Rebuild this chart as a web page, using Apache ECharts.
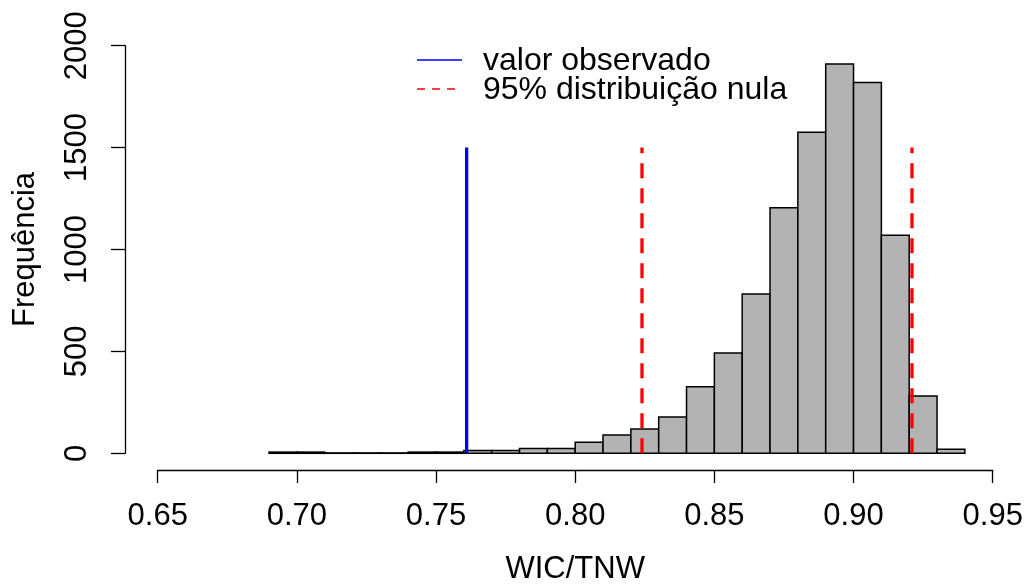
<!DOCTYPE html>
<html>
<head>
<meta charset="utf-8">
<script src="https://cdn.jsdelivr.net/npm/echarts@6/dist/echarts.min.js"></script>
<style>
  html, body { margin: 0; padding: 0; background: #fff; }
  #chart { width: 1026px; height: 584px; }
</style>
</head>
<body>
<div id="chart"></div>
<script>
// histogram bins (left edges) and counts, bin width 0.01
const binStarts = [0.69, 0.70, 0.71, 0.72, 0.73, 0.74, 0.75, 0.76, 0.77, 0.78, 0.79,
  0.80, 0.81, 0.82, 0.83, 0.84, 0.85, 0.86, 0.87, 0.88, 0.89, 0.90, 0.91, 0.92, 0.93];
const binCounts = [6, 6, 2, 2, 2, 6, 6, 14, 14, 23, 23,
  54, 90, 119, 178, 327, 492, 782, 1205, 1575, 1910, 1820, 1070, 281, 20];
const binWidth = 0.01;

const observedValue = 0.761;
const nullQuantiles = [0.824, 0.921];
const refLineTop = 1500;

const legendLabels = ["valor observado", "95% distribuição nula"];

const xTicks = { min: 0.65, max: 0.95, step: 0.05 };
const yTicks = { min: 0, max: 2000, step: 500 };

const FONT = "'Liberation Sans', Arial, sans-serif";
const FS = 31;

const histData = binStarts.map((s, i) => [s, s + binWidth, binCounts[i]]);

const chart = echarts.init(document.getElementById("chart"), null, { renderer: "canvas" });

// legend drawn by hand, R style (no box)
function legendRow(y, color, dash, label) {
  return [
    {
      type: "line",
      shape: { x1: 417, y1: y, x2: 462, y2: y },
      style: { stroke: color, lineWidth: 1.5, lineDash: dash },
    },
    {
      type: "text",
      x: 483,
      y: y + 1.5,
      style: { text: label, font: `32px ${FONT}`, fill: "#000", verticalAlign: "middle", align: "left" },
    },
  ];
}

chart.setOption({
  animation: false,
  backgroundColor: "#fff",
  textStyle: { fontFamily: FONT },
  grid: { left: 157.7, right: 33.3, top: 45.7, bottom: 130.7, outerBoundsMode: "none" },
  graphic: [
    ...legendRow(60, "#0000ff", null, legendLabels[0]),
    ...legendRow(89, "#ff0000", [8, 7], legendLabels[1]),
  ],
  xAxis: {
    type: "value",
    min: xTicks.min,
    max: xTicks.max,
    interval: xTicks.step,
    offset: 16.7,
    splitLine: { show: false },
    axisLine: { show: true, onZero: false, lineStyle: { color: "#000", width: 1.3 } },
    axisTick: { show: true, length: 13, lineStyle: { color: "#000", width: 1.3 } },
    axisLabel: {
      margin: 31,
      fontSize: FS,
      color: "#000",
      fontFamily: FONT,
      formatter: (v) => v.toFixed(2),
    },
    name: "WIC/TNW",
    nameLocation: "middle",
    nameGap: 84,
    nameTextStyle: { fontSize: FS, color: "#000", fontFamily: FONT },
  },
  yAxis: {
    type: "value",
    min: yTicks.min,
    max: yTicks.max,
    interval: yTicks.step,
    offset: 32.7,
    splitLine: { show: false },
    axisLine: { show: true, lineStyle: { color: "#000", width: 1.3 } },
    axisTick: { show: true, length: 14, lineStyle: { color: "#000", width: 1.3 } },
    axisLabel: {
      rotate: 90,
      margin: 32,
      fontSize: FS,
      color: "#000",
      fontFamily: FONT,
      formatter: (v) => String(v),
    },
    name: "Frequência",
    nameLocation: "middle",
    nameGap: 84,
    nameTextStyle: { fontSize: FS, color: "#000", fontFamily: FONT },
  },
  series: [
    {
      name: "hist",
      type: "custom",
      data: histData,
      renderItem(params, api) {
        const p0 = api.coord([api.value(0), 0]);
        const p1 = api.coord([api.value(1), api.value(2)]);
        return {
          type: "rect",
          shape: { x: p0[0], y: p1[1], width: p1[0] - p0[0], height: p0[1] - p1[1] },
          style: { fill: "#b3b3b3", stroke: "#000", lineWidth: 1.5 },
        };
      },
      encode: { x: [0, 1], y: 2 },
    },
    {
      name: legendLabels[0],
      type: "line",
      symbol: "none",
      data: [[observedValue, 0], [observedValue, refLineTop]],
      lineStyle: { color: "#0000ff", width: 3.3 },
      z: 5,
    },
    {
      name: legendLabels[1],
      type: "line",
      symbol: "none",
      data: [[nullQuantiles[0], 0], [nullQuantiles[0], refLineTop]],
      lineStyle: { color: "#ff0000", width: 3.3, type: [15, 10] },
      z: 5,
    },
    {
      name: legendLabels[1],
      type: "line",
      symbol: "none",
      data: [[nullQuantiles[1], 0], [nullQuantiles[1], refLineTop]],
      lineStyle: { color: "#ff0000", width: 3.3, type: [15, 10] },
      z: 5,
    },
  ],
});
</script>
</body>
</html>
